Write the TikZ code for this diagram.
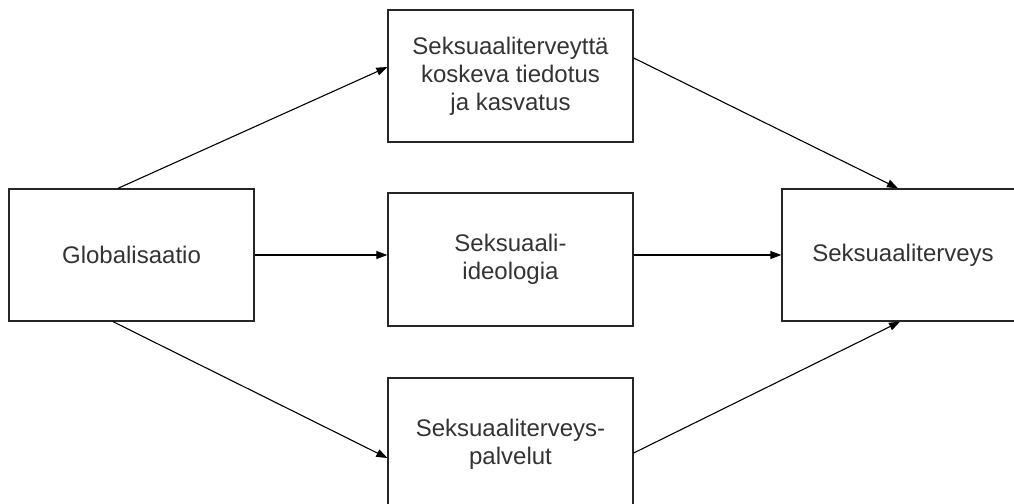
\documentclass[tikz,border=0pt]{standalone}
\usepackage{fontspec}
\setmainfont{Liberation Sans}
\usetikzlibrary{arrows.meta,calc}
\begin{document}
\begin{tikzpicture}[x=1pt,y=-1pt,
  box/.style={draw=black!85,line width=1.3pt,rectangle,minimum width=245pt,minimum height=132pt,
    inner sep=0pt,align=center,text=black!80,font=\fontsize{24}{28}\selectfont},
  conn/.style={draw=black,line width=1.1pt,-{Triangle[length=11pt,width=8pt]}}]
\useasboundingbox (0,0) rectangle (1014,503);
\clip (0,0) rectangle (1014,503);
\node[box] (glob) at (131.5,255) {Globalisaatio};
\node[box] (info) at (510.5,76) {Seksuaaliterveyttä\\koskeva tiedotus\\ja kasvatus};
\node[box,minimum height=133pt] (ideo) at (510.5,259.5) {Seksuaali-\\ideologia};
\node[box,minimum height=133pt] (palv) at (510.5,444.5) {Seksuaaliterveys-\\palvelut};
\node[box,minimum width=242pt] (terv) at (903,255) {Seksuaaliterveys};
\coordinate (g1) at ($(glob.north west)!0.445!(glob.north east)$);
\coordinate (g3) at ($(glob.south west)!0.425!(glob.south east)$);
\coordinate (i1) at ($(info.west)+(0,-9)$);
\coordinate (p1) at ($(palv.west)+(0,13.5)$);
\coordinate (i2) at ($(info.east)+(0,-18)$);
\coordinate (p2) at ($(palv.east)+(0,8.5)$);
\coordinate (t1) at ($(terv.north)+(-5,0)$);
\coordinate (t3) at ($(terv.south)+(-3,0)$);
\draw[conn] (g1) -- (i1);
\draw[conn] (glob.east) -- (glob.east -| ideo.west);
\draw[conn] (g3) -- (p1);
\draw[conn] (i2) -- (t1);
\draw[conn] (glob.east -| ideo.east) -- (terv.west);
\draw[conn] (p2) -- (t3);
\end{tikzpicture}
\end{document}
